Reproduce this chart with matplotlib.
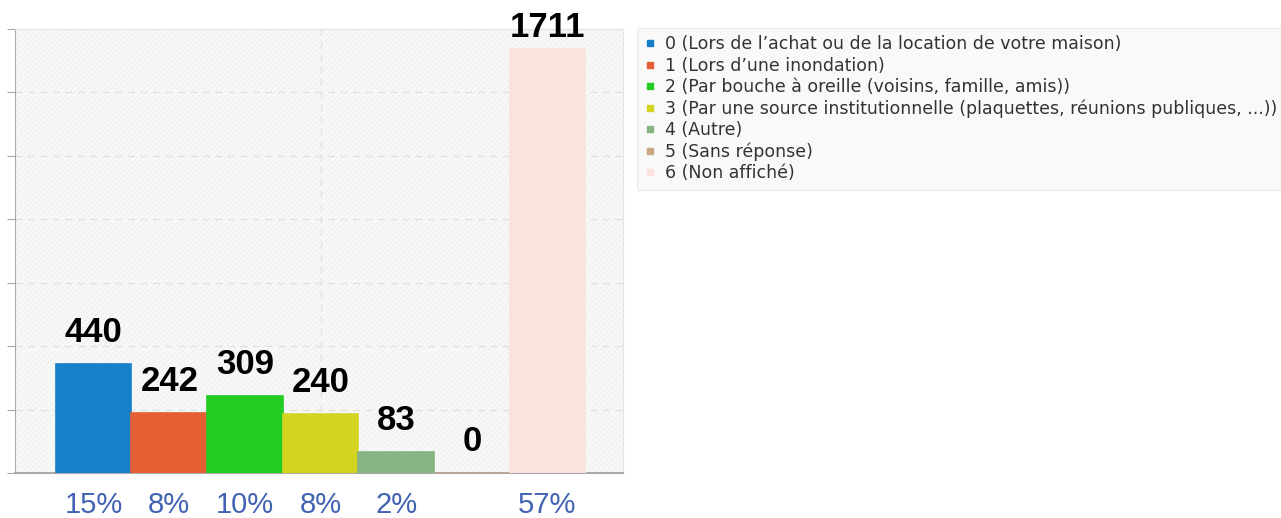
import numpy as np
import matplotlib.pyplot as plt
from matplotlib.lines import Line2D
from matplotlib.patches import Rectangle

counts = [440, 242, 309, 240, 83, 0, 1711]
pcts = ["15%", "8%", "10%", "8%", "2%", "", "57%"]
labels = [
    "0 (Lors de l\u2019achat ou de la location de votre maison)",
    "1 (Lors d\u2019une inondation)",
    "2 (Par bouche \u00e0 oreille (voisins, famille, amis))",
    "3 (Par une source institutionnelle (plaquettes, r\u00e9unions publiques, ...))",
    "4 (Autre)",
    "5 (Sans r\u00e9ponse)",
    "6 (Non affich\u00e9)",
]
colors = ["#1681c8", "#e55f35", "#22cc22", "#d4d420", "#88b383", "#c8a882", "#f9e3dc"]

plt.rcParams['hatch.linewidth'] = 0.6
W, H = 1281, 518
fig = plt.figure(figsize=(W / 100, H / 100), dpi=100)
ax = fig.add_axes([15 / W, 45 / H, 608 / W, 444 / H])

# striped background
ax.set_facecolor("#f8f8f8")
ax.add_patch(Rectangle((0, 0), 1, 1, transform=ax.transAxes, facecolor="none",
                       edgecolor="#eeeeee", hatch="//////", lw=0, zorder=0))

x = np.arange(len(counts))
# edge in the same colour so the zero bar still shows as a thin line
ax.bar(x, counts, width=1.0, color=colors, edgecolor=colors, linewidth=1.2, zorder=3)

ax.set_xlim(-1.04, 7)
ax.set_ylim(0, 1792)

for xi, c, p in zip(x, counts, pcts):
    # keep the value label inside the canvas (clamp near the top)
    top_px = ax.transData.transform((xi, c))[1]
    off_px = min(15, (H - 12) - top_px - 32)
    ax.annotate(str(c), (xi, c), xytext=(0, off_px * 0.72), textcoords="offset points",
                ha="center", va="bottom", fontsize=25, fontweight="bold",
                family="Liberation Sans", color="black", zorder=5,
                annotation_clip=False)
    if p:
        ax.annotate(p, (xi, 0), xytext=(0, -23), textcoords="offset points",
                    ha="center", va="center", fontsize=21, family="Liberation Sans",
                    color="#4262b3", annotation_clip=False)

ax.set_yticks(np.arange(0, 1793, 256))
ax.set_yticklabels([])
ax.set_xticks([3])
ax.set_xticklabels([])
ax.tick_params(axis="x", length=0)
ax.tick_params(axis="y", length=6, color="#aaaaaa", direction="out")
ax.grid(True, color="#e2e2e2", linestyle=(0, (5, 4)), lw=1, zorder=1)

ax.spines["left"].set_color("#aaaaaa")
ax.spines["bottom"].set_color("#aaaaaa")
ax.spines["bottom"].set_linewidth(1.5)
ax.spines["top"].set_color("#e4e4e4")
ax.spines["right"].set_color("#e4e4e4")

handles = [Line2D([], [], ls="none", marker="s", markersize=4.5, color=c) for c in colors]
leg = fig.legend(handles, labels, loc="upper left",
                 bbox_to_anchor=(637 / W, 1 - 190 / H, 700 / W, 162 / H),
                 mode="expand", frameon=True, fancybox=True, shadow=False,
                 prop={"family": "DejaVu Sans", "size": 12.55}, labelcolor="#333333",
                 handlelength=0.6, handletextpad=0.6, labelspacing=0.19,
                 borderpad=0.42, borderaxespad=0)
leg.get_frame().set_facecolor("#f8f8f8")
leg.get_frame().set_edgecolor("#e8e8e8")

fig.savefig("out.png", dpi=100)
